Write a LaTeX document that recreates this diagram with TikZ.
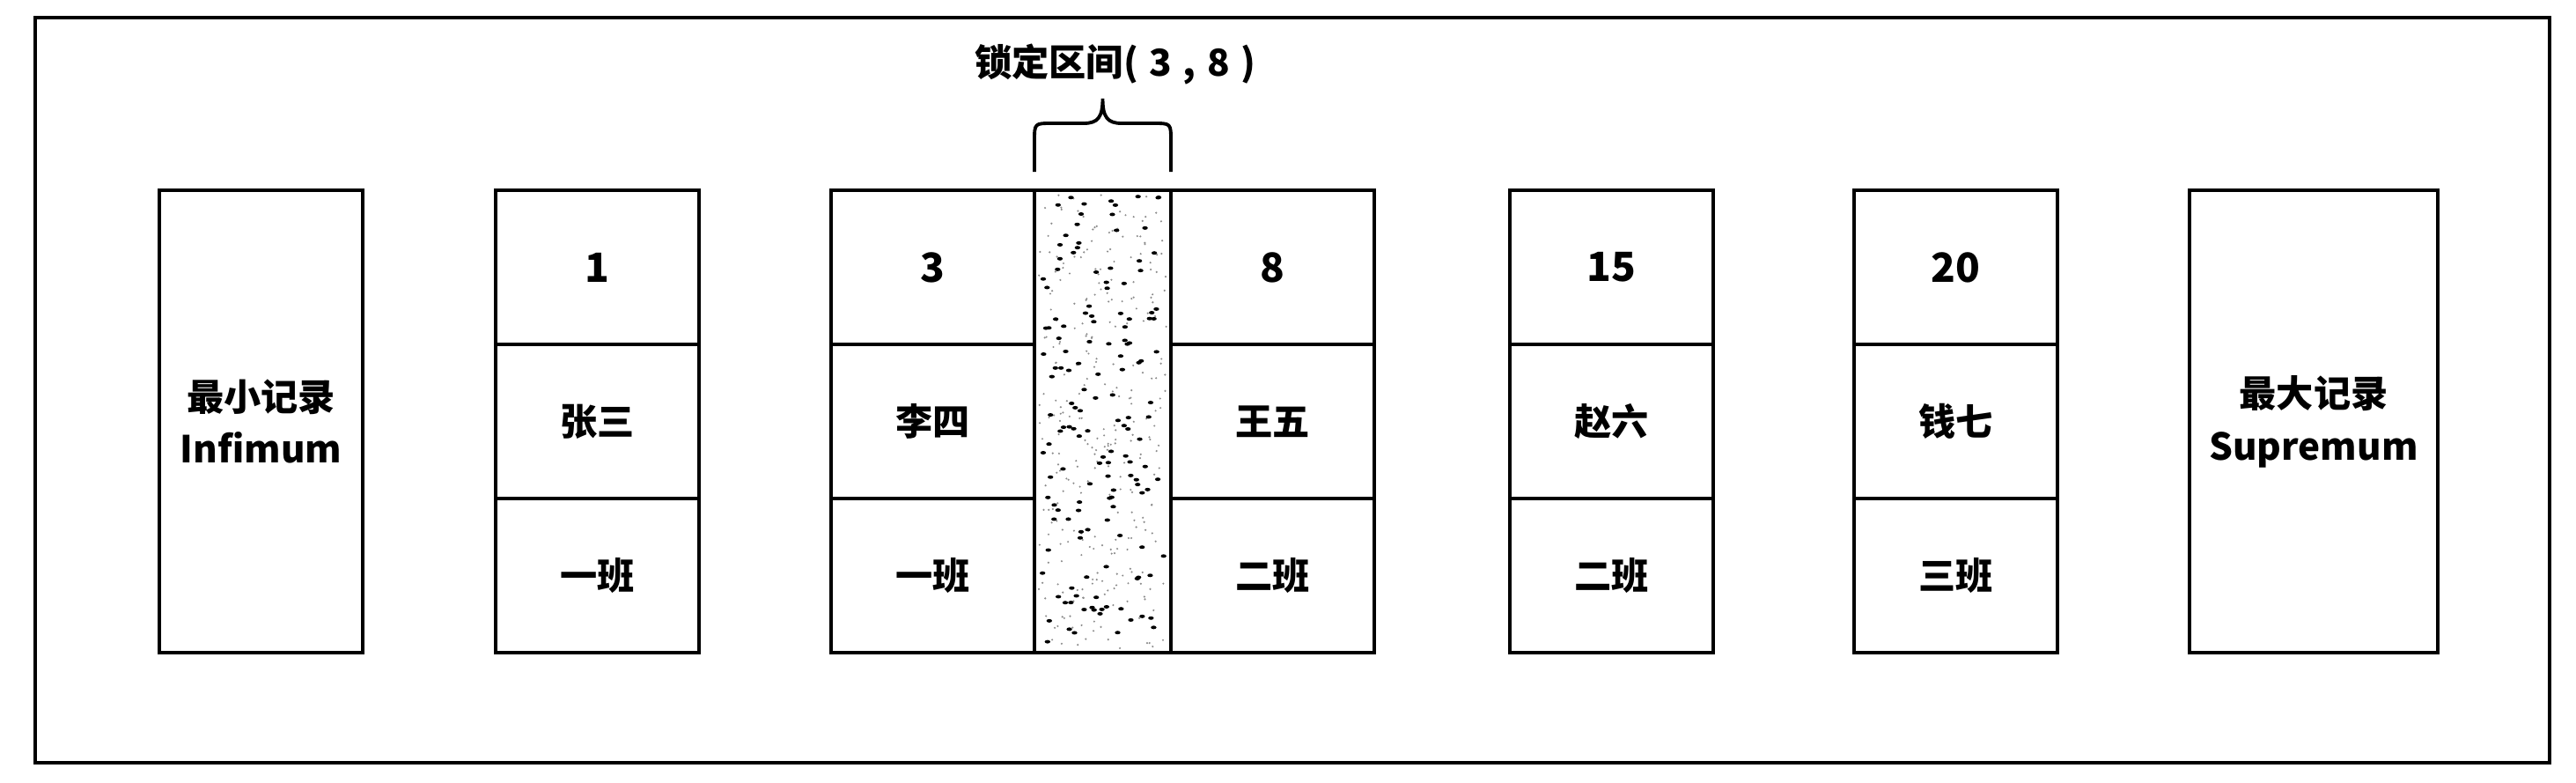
\documentclass[tikz,border=0pt]{standalone}
\usepackage{fontspec}
\newfontfamily\cjk{Noto Sans CJK SC}
\begin{document}
\begin{tikzpicture}[line width=1.1pt,
  cell/.style={draw,minimum width=2.31cm,minimum height=1.75cm,inner sep=0pt,font=\cjk\bfseries\fontsize{12}{14}\selectfont},
  numcell/.style={cell,font=\cjk\bfseries\fontsize{13}{15}\selectfont},
  endbox/.style={draw,minimum height=5.25cm,inner sep=0pt,align=center,font=\cjk\bfseries\fontsize{12}{17}\selectfont}]
\useasboundingbox (0,0) rectangle (29.26,8.88);
\draw (0.40,0.22) rectangle (28.96,8.68);
\node[endbox,minimum width=2.31cm] (inf) at (2.965,4.095) {最小记录\\Infimum};
\node[numcell] (k1) at (6.785,5.845) {1};
\node[cell] (n1) at (6.785,4.095) {张三};
\node[cell] (c1) at (6.785,2.345) {一班};
\node[numcell] (k3) at (10.595,5.845) {3};
\node[cell] (n3) at (10.595,4.095) {李四};
\node[cell] (c3) at (10.595,2.345) {一班};
% locked gap
\pgfmathsetseed{7}
\foreach \i in {1,...,300} \fill[black!45] ({11.80+1.45*rnd},{1.52+5.15*rnd}) circle[radius=0.012];
\foreach \i in {1,...,150} \fill ({11.82+1.41*rnd},{1.55+5.10*rnd}) ellipse[x radius=0.032,y radius=0.02];
\node[draw,minimum width=1.55cm,minimum height=5.25cm,inner sep=0pt] (gap) at (12.525,4.095) {};
\node[numcell] (k8) at (14.455,5.845) {8};
\node[cell] (n8) at (14.455,4.095) {王五};
\node[cell] (c8) at (14.455,2.345) {二班};
\node[numcell] (k15) at (18.305,5.845) {15};
\node[cell] (n15) at (18.305,4.095) {赵六};
\node[cell] (c15) at (18.305,2.345) {二班};
\node[numcell] (k20) at (22.215,5.845) {20};
\node[cell] (n20) at (22.215,4.095) {钱七};
\node[cell] (c20) at (22.215,2.345) {三班};
\node[endbox,minimum width=2.82cm] (sup) at (26.28,4.095) {最大记录\\Supremum};
% brace over the gap
\draw (11.75,6.93) -- (11.75,7.28) .. controls (11.75,7.48) and (11.75,7.48) .. (11.95,7.48) -- (12.31,7.48) .. controls (12.47,7.48) and (12.525,7.55) .. (12.525,7.76) .. controls (12.525,7.55) and (12.58,7.48) .. (12.74,7.48) -- (13.10,7.48) .. controls (13.30,7.48) and (13.30,7.48) .. (13.30,7.28) -- (13.30,6.93);
\node[font=\cjk\bfseries\fontsize{12}{14}\selectfont] (lock) at (12.67,8.15) {锁定区间(\hspace{0.3em}3\hspace{0.3em},\hspace{0.3em}8\hspace{0.3em})};
\end{tikzpicture}
\end{document}
